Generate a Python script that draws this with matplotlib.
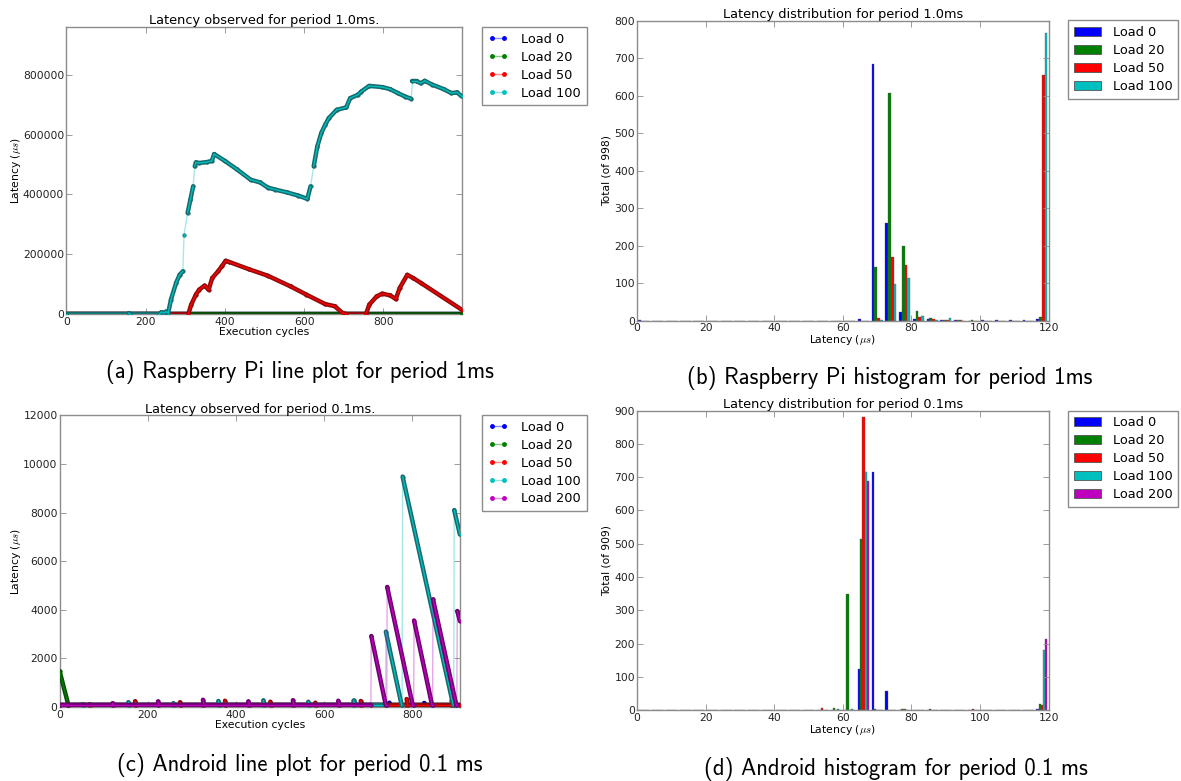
import numpy as np
import matplotlib.pyplot as plt
from matplotlib.collections import LineCollection
from matplotlib.lines import Line2D

plt.rcParams['font.family'] = 'DejaVu Sans'
plt.rcParams['mathtext.fontset'] = 'cm'
plt.rcParams['font.size'] = 7.75

# ---- (a) Raspberry Pi, period 1.0 ms : latency per cycle ----
a_labels = ['Load 0', 'Load 20', 'Load 50', 'Load 100']
a_x0 = [0, 997]
a_y0 = [70, 70]
a_x20 = [0, 997]
a_y20 = [74, 74]
a_x50 = [0, 308, 315, 327, 335, 349, 359, 368, 383, 392, 402, 411, 460, 508, 566,
         605, 653, 677, 697, 706, 756, 764, 783, 797, 817, 831, 841, 860, 875, 894, 997]
a_y50 = [120, 120, 31000, 65000, 81000, 95000, 81000, 120000, 143000, 159000, 178000,
         174000, 150000, 128000, 92000, 65000, 33000, 26000, 3000, 120, 120, 31000,
         59000, 68000, 62000, 50000, 87000, 131000, 120000, 104000, 14500]
a_x100 = [0, 157, 158, 160, 235, 240, 248, 252, 257, 264, 277, 286, 294, 297, 306, 313,
          320, 324, 327, 335, 354, 367, 373, 400, 430, 465, 489, 508, 527, 556, 585, 608,
          616, 624, 633, 643, 653, 662, 682, 706, 716, 735, 744, 764, 797, 817, 836, 855,
          870, 873, 884, 894, 904, 923, 952, 971, 986, 997]
a_y100 = [76, 76, 3000, 76, 76, 6000, 4000, 8000, 3000, 48000, 104000, 131000, 143000,
          265000, 338000, 382000, 427000, 494000, 507000, 505000, 508000, 512000, 535000,
          512000, 484000, 449000, 440000, 423000, 416000, 407000, 396000, 385000, 427000,
          494000, 560000, 605000, 633000, 655000, 683000, 691000, 722000, 733000, 744000,
          763000, 759000, 752000, 739000, 727000, 720000, 778000, 778000, 772000, 780000,
          767000, 752000, 739000, 741000, 728000]

# ---- (b) Raspberry Pi histogram, 30 bins of 4 us over 0..120 ----
b_labels = ['Load 0', 'Load 20', 'Load 50', 'Load 100']
b_load0 = [1, 0, 0, 0, 0, 0, 0, 0, 0, 0, 0, 0, 0, 0, 0, 0, 4, 685, 260, 22, 5, 5, 3, 1, 0, 3, 1, 1, 1, 5]
b_load20 = [0, 0, 0, 0, 0, 0, 0, 0, 0, 0, 0, 0, 0, 0, 0, 0, 0, 142, 607, 200, 25, 8, 3, 2, 1, 0, 0, 0, 0, 10]
b_load50 = [0, 0, 0, 0, 0, 0, 0, 0, 0, 0, 0, 0, 0, 0, 0, 0, 0, 7, 170, 148, 10, 5, 3, 1, 0, 0, 0, 0, 0, 655]
b_load100 = [0, 0, 0, 0, 0, 0, 0, 0, 0, 0, 0, 0, 0, 0, 0, 0, 0, 1, 97, 113, 12, 3, 6, 0, 0, 0, 0, 0, 0, 768]

# ---- (c) Android, period 0.1 ms : latency per cycle ----
c_labels = ['Load 0', 'Load 20', 'Load 50', 'Load 100', 'Load 200']
c_x0 = [0, 666, 667, 670, 747, 748, 751, 826, 827, 830, 908]
c_y0 = [66, 66, 240, 66, 66, 180, 66, 66, 170, 66, 66]
c_x20 = [0, 20, 908]
c_y20 = [1470, 66, 66]
c_x50 = [0, 67, 68, 71, 170, 171, 174, 272, 273, 276, 374, 375, 378, 477, 478, 481,
         579, 580, 583, 682, 683, 686, 786, 787, 790, 888, 889, 892, 908]
c_y50 = [66, 66, 110, 66, 66, 240, 66, 66, 200, 66, 66, 260, 66, 66, 220, 66,
         66, 180, 66, 66, 250, 66, 66, 330, 66, 66, 260, 66, 66]
c_x100 = [0, 51, 52, 55, 155, 156, 159, 257, 258, 261, 359, 360, 363, 461, 462, 465,
          563, 564, 567, 666, 667, 670, 739, 740, 776, 777, 778, 893, 894, 895, 908]
c_y100 = [66, 66, 120, 66, 66, 200, 66, 66, 150, 66, 66, 250, 66, 66, 270, 66,
          66, 220, 66, 66, 270, 66, 66, 3100, 66, 66, 9480, 66, 66, 8100, 7100]
c_x200 = [0, 17, 18, 21, 119, 120, 123, 222, 223, 226, 324, 325, 328, 427, 428, 431,
          528, 529, 532, 631, 632, 635, 706, 707, 740, 742, 743, 801, 803, 804, 845,
          846, 847, 900, 901, 902, 908]
c_y200 = [66, 66, 100, 66, 66, 150, 66, 66, 230, 66, 66, 300, 66, 66, 230, 66,
          66, 280, 66, 66, 260, 66, 66, 2920, 66, 66, 4940, 66, 66, 3560, 66,
          66, 4430, 66, 66, 3950, 3540]

# ---- (d) Android histogram ----
d_labels = ['Load 0', 'Load 20', 'Load 50', 'Load 100', 'Load 200']
d_load0 = [1, 0, 0, 0, 0, 0, 0, 0, 0, 0, 0, 0, 0, 0, 0, 0, 125, 715, 58, 2, 1, 0, 1, 0, 0, 0, 0, 0, 0, 4]
d_load20 = [0, 0, 0, 0, 0, 0, 0, 0, 0, 0, 0, 0, 0, 0, 8, 348, 515, 3, 1, 5, 1, 3, 0, 0, 2, 0, 0, 0, 0, 18]
d_load50 = [0, 0, 0, 0, 0, 0, 0, 0, 0, 0, 0, 0, 0, 7, 0, 0, 880, 0, 1, 3, 0, 0, 0, 0, 3, 0, 0, 0, 0, 15]
d_load100 = [0, 0, 0, 0, 0, 0, 0, 0, 0, 0, 0, 1, 0, 0, 3, 4, 715, 0, 0, 0, 1, 0, 0, 0, 0, 0, 0, 0, 0, 180]
d_load200 = [0, 0, 0, 0, 0, 0, 0, 0, 0, 0, 0, 0, 0, 0, 0, 0, 688, 0, 0, 0, 1, 0, 0, 0, 0, 2, 0, 1, 0, 213]

bin_edges = np.arange(0, 121, 4)

base = {'b': (0, 0, 1), 'g': (0, 0.5, 0), 'r': (1, 0, 0), 'c': (0, 0.75, 0.75), 'm': (0.75, 0, 0.75)}
dark = {'b': '#00008b', 'g': '#0b4a0b', 'r': '#8b0d0d', 'c': '#17696b', 'm': '#6d006d'}
keys = ['b', 'g', 'r', 'c', 'm']


def style(ax):
    for s in ax.spines.values():
        s.set_color('0.55')
        s.set_linewidth(1)
    ax.tick_params(direction='in', top=True, right=True, length=4, width=0.6,
                   color='0.55', labelsize=7.75, labelcolor='#222222')
    ax.tick_params(axis='y', pad=1.5)
    ax.tick_params(axis='x', pad=2)


def draw_trace(ax, xs, ys, k, z, thr=2.3):
    # dense stretches (one sample per cycle) show as a solid band, jumps as thin lines
    xs = np.asarray(xs, float)
    ys = np.asarray(ys, float)
    pts = ax.transData.transform(np.column_stack([xs, ys]))
    step = np.hypot(*np.diff(pts, axis=0).T) / np.maximum(np.diff(xs), 1)
    dense = step < thr
    segs = np.stack([np.column_stack([xs[:-1], ys[:-1]]),
                     np.column_stack([xs[1:], ys[1:]])], axis=1)
    ax.plot(xs, ys, '-', color=base[k], lw=1, alpha=0.35, zorder=z)
    ax.plot(xs, ys, '.', color=base[k], mec=dark[k], ms=5, mew=0.5, zorder=z + 0.1)
    ax.add_collection(LineCollection(segs[dense], colors=[dark[k]], linewidths=3.2,
                                     capstyle='round', zorder=z + 0.2), autolim=False)
    ax.add_collection(LineCollection(segs[dense], colors=[base[k]], linewidths=1.0,
                                     capstyle='round', zorder=z + 0.3), autolim=False)


def line_legend(ax, labels, anchor):
    hs = [Line2D([], [], color=(*base[k], 0.45), lw=1, marker='.', ms=5,
                 mfc=base[k], mec=base[k]) for k in keys[:len(labels)]]
    leg = ax.legend(hs, labels, loc='upper left', bbox_to_anchor=anchor,
                    bbox_transform=fig.transFigure, borderaxespad=0, fontsize=9.3,
                    numpoints=2, handlelength=1.6, handletextpad=1.0,
                    labelspacing=0.38, fancybox=False, framealpha=1, borderpad=0.45)
    leg.get_frame().set_edgecolor('0.55')


def hist_panel(ax, series, labels, anchor):
    n = len(series)
    w = 0.8 * 4 / n
    for i, (cnt, k) in enumerate(zip(series, keys)):
        ax.bar(bin_edges[:-1] + 0.4 + i * w, cnt, width=w, align='edge', color=base[k],
               edgecolor='#555555', linewidth=0.25, label=labels[i])
    ax.set_xlim(0, 120)
    ax.set_xticks(range(0, 121, 20))
    ax.set_xlabel(r'Latency ($\mu s$)', labelpad=0)
    leg = ax.legend(loc='upper left', bbox_to_anchor=anchor, bbox_transform=fig.transFigure,
                    borderaxespad=0, fontsize=9.3, handlelength=2.1, handleheight=0.7,
                    handletextpad=0.9, labelspacing=0.38, fancybox=False,
                    framealpha=1, borderpad=0.45)
    leg.get_frame().set_edgecolor('0.55')
    for p in leg.get_patches():
        p.set_linewidth(0.6)


fig = plt.figure(figsize=(11.81, 7.81), dpi=100)
ax_a = fig.add_axes([0.0561, 0.5980, 0.3351, 0.3674])
ax_b = fig.add_axes([0.5394, 0.5894, 0.3486, 0.3841])
ax_c = fig.add_axes([0.0505, 0.0947, 0.3393, 0.3735])
ax_d = fig.add_axes([0.5394, 0.0905, 0.3486, 0.3838])
for ax in (ax_a, ax_b, ax_c, ax_d):
    style(ax)

# (a)
ax_a.set_xlim(0, 998)
ax_a.set_ylim(0, 960000)
ax_a.set_xticks(range(0, 801, 200))
ax_a.set_yticks(range(0, 800001, 200000))
for i, (xs, ys) in enumerate([(a_x0, a_y0), (a_x20, a_y20), (a_x50, a_y50), (a_x100, a_y100)]):
    draw_trace(ax_a, xs, ys, keys[i], 2 + i)
ax_a.set_title('Latency observed for period 1.0ms.', fontsize=9.3, pad=2)
ax_a.set_xlabel('Execution cycles', labelpad=0)
ax_a.set_ylabel(r'Latency ($\mu s$)', labelpad=0)
line_legend(ax_a, a_labels, (0.408, 0.9654))

# (b)
hist_panel(ax_b, [b_load0, b_load20, b_load50, b_load100], b_labels, (0.9043, 0.974))
ax_b.set_ylim(0, 800)
ax_b.set_yticks(range(0, 801, 100))
ax_b.set_title('Latency distribution for period 1.0ms', fontsize=9.3, pad=2)
ax_b.set_ylabel('Total (of 998)', labelpad=2)

# (c)
ax_c.set_xlim(0, 909)
ax_c.set_ylim(0, 12000)
ax_c.set_xticks(range(0, 801, 200))
ax_c.set_yticks(range(0, 12001, 2000))
for i, (xs, ys) in enumerate([(c_x0, c_y0), (c_x20, c_y20), (c_x50, c_y50),
                              (c_x100, c_y100), (c_x200, c_y200)]):
    draw_trace(ax_c, xs, ys, keys[i], 2 + i)
ax_c.set_title('Latency observed for period 0.1ms.', fontsize=9.3, pad=2)
ax_c.set_xlabel('Execution cycles', labelpad=0)
ax_c.set_ylabel(r'Latency ($\mu s$)', labelpad=0)
line_legend(ax_c, c_labels, (0.408, 0.4686))

# (d)
hist_panel(ax_d, [d_load0, d_load20, d_load50, d_load100, d_load200], d_labels, (0.9043, 0.4743))
ax_d.set_ylim(0, 900)
ax_d.set_yticks(range(0, 901, 100))
ax_d.set_title('Latency distribution for period 0.1ms', fontsize=9.3, pad=2)
ax_d.set_ylabel('Total (of 909)', labelpad=2)

# sub-figure captions
cap = dict(ha='center', va='center', fontsize=16.4, family='cmss10')
fig.text(300 / 1181, 1 - 372 / 781, '(a) Raspberry Pi line plot for period 1ms', **cap)
fig.text(890 / 1181, 1 - 378 / 781, '(b) Raspberry Pi histogram for period 1ms', **cap)
fig.text(300 / 1181, 1 - 765 / 781, '(c) Android line plot for period 0.1 ms', **cap)
fig.text(896 / 1181, 1 - 769 / 781, '(d) Android histogram for period 0.1 ms', **cap)

fig.savefig('out.png', dpi=100)
